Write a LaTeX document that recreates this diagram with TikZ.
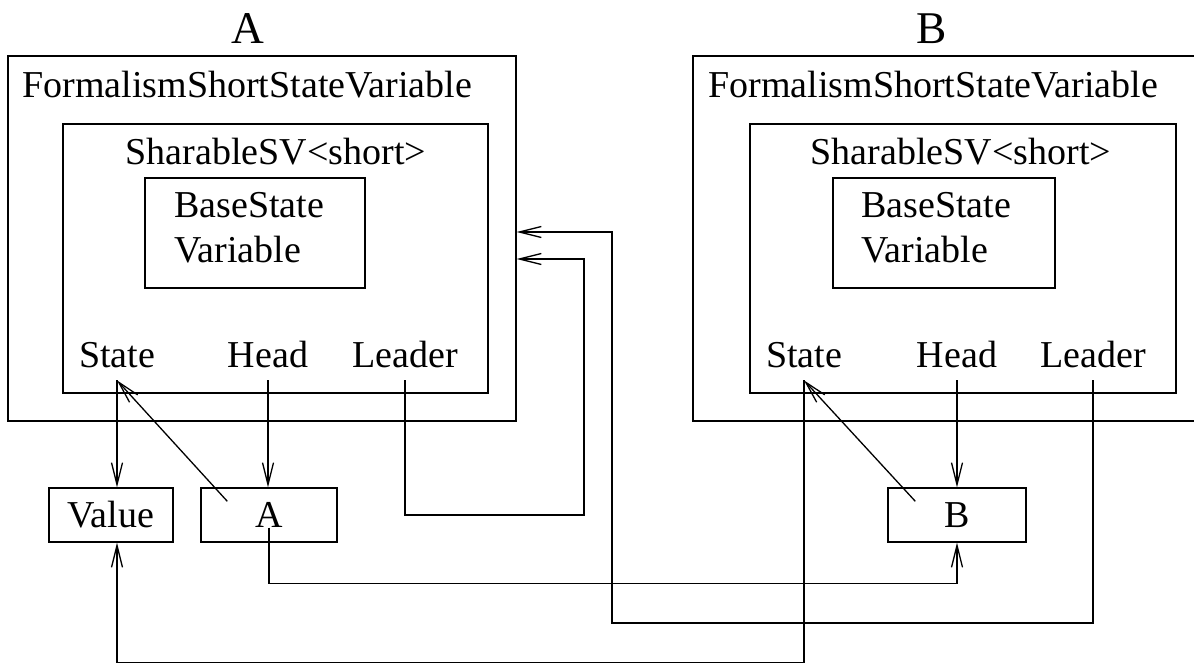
\documentclass[tikz,border=0pt]{standalone}
\usepackage{fontspec}
\setmainfont{Liberation Serif}
\usetikzlibrary{positioning,arrows.meta,fit,calc}
\tikzset{
  frame-box/.style={draw,line width=0.65pt,inner sep=0pt},
  obj-box/.style={draw,line width=0.65pt,inner sep=0pt,minimum height=27pt,
    font=\fontsize{19}{22.5}\selectfont},
  class-name/.style={inner sep=0pt,anchor=base west,font=\fontsize{19}{22.5}\selectfont},
  field-name/.style={inner sep=0pt,outer sep=6.5pt,anchor=base,font=\fontsize{19}{22.5}\selectfont},
  obj-label/.style={inner sep=0pt,anchor=base,font=\fontsize{22.7}{26}\selectfont},
  arrow/.style={-{Straight Barb[length=11pt,width=5.5pt]},line width=0.65pt},
}

\begin{document}
\begin{tikzpicture}[x=0.5pt,y=-0.5pt]
  \clip (0,0) rectangle (1194,664);

  % object A
  \node[obj-label] (labA) at (248,43) {A};
  \node[frame-box,fit={(8,56) (516,421)}] (fsvA) {};
  \node[class-name] (fsvA-name) at (22,97) {FormalismShortStateVariable};
  \node[frame-box,fit={(63,124) (488,393)}] (shA) {};
  \node[class-name,anchor=base] (shA-name) at (276,164) {SharableSV<short>};
  \node[frame-box,fit={(145,178) (365,288)}] (bsA) {};
  \node[class-name,anchor=west,align=left] (bsA-name) at (174,228) {BaseState\\Variable};
  \node[field-name] (stA) at (117,367) {State};
  \node[field-name] (hdA) at (268,367) {Head};
  \node[field-name] (ldA) at (405,367) {Leader};

  % object B
  \node[obj-label] (labB) at (932,43) {B};
  \node[frame-box,fit={(693,56) (1220,421)}] (fsvB) {};
  \node[class-name] (fsvB-name) at (708,97) {FormalismShortStateVariable};
  \node[frame-box,fit={(750,124) (1176,393)}] (shB) {};
  \node[class-name,anchor=base] (shB-name) at (961,164) {SharableSV<short>};
  \node[frame-box,fit={(833,178) (1055,288)}] (bsB) {};
  \node[class-name,anchor=west,align=left] (bsB-name) at (861,228) {BaseState\\Variable};
  \node[field-name] (stB) at (804,367) {State};
  \node[field-name] (hdB) at (957,367) {Head};
  \node[field-name] (ldB) at (1093,367) {Leader};

  % shared objects
  \node[obj-box,minimum width=62pt] (val) at (111,515) {Value};
  \node[obj-box,minimum width=68pt] (boxA) at (269,515) {A};
  \node[obj-box,minimum width=69pt] (boxB) at (957,515) {B};

  % links
  \draw[arrow] (stA.south) -- (stA.south |- val.north);
  \draw[arrow] (hdA.south) -- (hdA.south |- boxA.north);
  \draw[arrow] ($(boxA.north west)+(27,14)$) -- (stA.south);
  \draw[arrow] (ldA.south) |- (584,515) |- (fsvA.east |- 0,259);
  \draw[arrow] (hdB.south) -- (hdB.south |- boxB.north);
  \draw[arrow] ($(boxB.north west)+(28,14)$) -- (stB.south);
  \draw[arrow] (ldB.south) |- (612,623) |- (fsvA.east |- 0,232);
  \draw[arrow] (boxA.base) |- ($(boxB.south)+(0,41)$) -- (boxB.south);
  \draw[arrow] (stB.south) |- ($(stA.south |- val.south)+(0,120)$) -- (stA.south |- val.south);
\end{tikzpicture}
\end{document}
